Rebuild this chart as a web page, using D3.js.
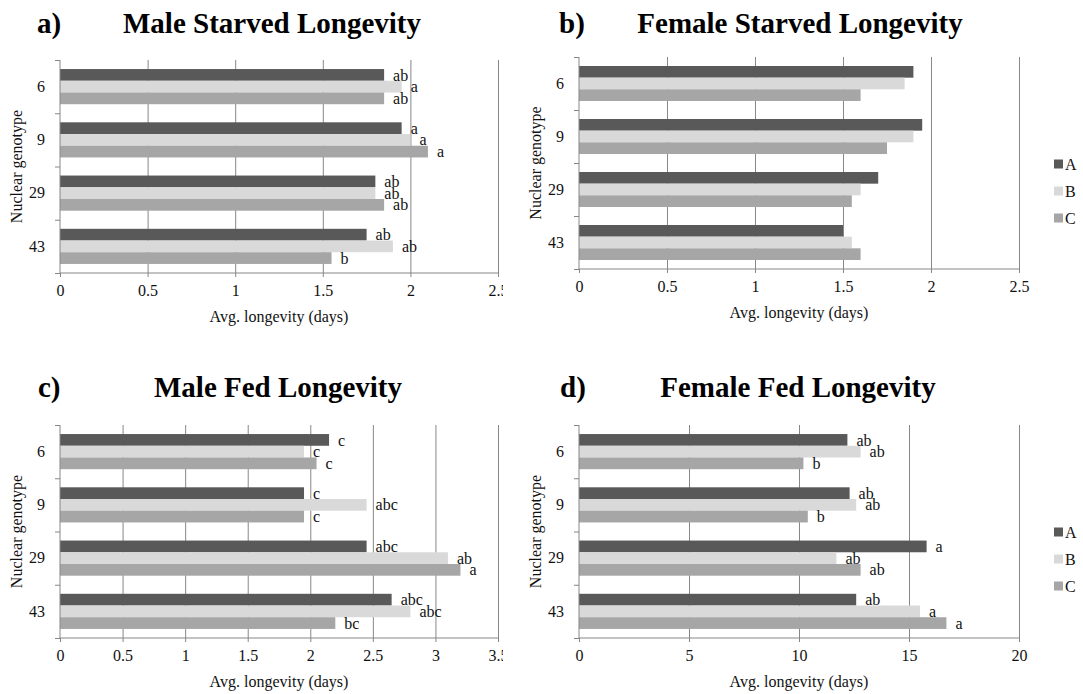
<!DOCTYPE html>
<html>
<head>
<meta charset="utf-8">
<script src="https://cdn.jsdelivr.net/npm/d3@7"></script>
<style>
  body { margin: 0; background: #fff; }
  svg { font-family: "Liberation Serif", "Times New Roman", serif; }
</style>
</head>
<body>
<div id="chart"></div>
<script>
// categories / series
var genotypes = ['6', '9', '29', '43'];
var mitoTypes = ['A', 'B', 'C'];

// a) Male starved
var maleStarvedA = [1.85, 1.95, 1.80, 1.75];
var maleStarvedB = [1.95, 2.00, 1.80, 1.90];
var maleStarvedC = [1.85, 2.10, 1.85, 1.55];
var maleStarvedLetters = [['ab', 'a', 'ab'], ['a', 'a', 'a'], ['ab', 'ab', 'ab'], ['ab', 'ab', 'b']];

// b) Female starved
var femaleStarvedA = [1.90, 1.95, 1.70, 1.50];
var femaleStarvedB = [1.85, 1.90, 1.60, 1.55];
var femaleStarvedC = [1.60, 1.75, 1.55, 1.60];

// c) Male fed
var maleFedA = [2.15, 1.95, 2.45, 2.65];
var maleFedB = [1.95, 2.45, 3.10, 2.80];
var maleFedC = [2.05, 1.95, 3.20, 2.20];
var maleFedLetters = [['c', 'c', 'c'], ['c', 'abc', 'c'], ['abc', 'ab', 'a'], ['abc', 'abc', 'bc']];

// d) Female fed
var femaleFedA = [12.2, 12.3, 15.8, 12.6];
var femaleFedB = [12.8, 12.6, 11.7, 15.5];
var femaleFedC = [10.2, 10.4, 12.8, 16.7];
var femaleFedLetters = [['ab', 'ab', 'b'], ['ab', 'ab', 'b'], ['a', 'ab', 'ab'], ['ab', 'a', 'a']];

var ticksStarved = [0, 0.5, 1, 1.5, 2, 2.5];
var ticksMaleFed = [0, 0.5, 1, 1.5, 2, 2.5, 3, 3.5];
var ticksFemaleFed = [0, 5, 10, 15, 20];

var colors = {A: '#595959', B: '#d9d9d9', C: '#a6a6a6'};
var gridColor = '#878787';
var serif = '"Liberation Serif", "Times New Roman", serif';

var svg = d3.select('#chart')
  .append('svg')
    .attr('width', 1083)
    .attr('height', 694);

// left panels are cut off just past their last tick in the original
svg.append('defs').append('clipPath')
    .attr('id', 'clipLeft')
  .append('rect')
    .attr('x', 0).attr('y', 0)
    .attr('width', 503).attr('height', 694);

function drawPanel(opt) {
  var root = svg.append('g');
  if (opt.clip) root.attr('clip-path', 'url(#clipLeft)');

  // panel letter + title
  root.append('text')
    .attr('x', opt.letterX).attr('y', opt.titleY)
    .attr('font-size', '29px').attr('font-weight', 'bold')
    .text(opt.letter);
  root.append('text')
    .attr('x', opt.titleX).attr('y', opt.titleY)
    .attr('text-anchor', 'middle')
    .attr('font-size', '29px').attr('font-weight', 'bold')
    .text(opt.title);

  var x = d3.scaleLinear()
    .domain([0, opt.ticks[opt.ticks.length - 1]])
    .range([opt.left, opt.right]);

  var y0 = d3.scaleBand()
    .domain(genotypes)
    .range([opt.top, opt.bottom])
    .paddingInner(0.34)
    .paddingOuter(0.17);

  var y1 = d3.scaleBand()
    .domain(mitoTypes)
    .range([0, y0.bandwidth()]);

  // grid lines
  root.append('g')
    .attr('transform', 'translate(0,' + opt.top + ')')
    .call(d3.axisTop(x).tickValues(opt.ticks.slice(1)).tickSize(-(opt.bottom - opt.top)).tickFormat(''))
    .call(function(g) {
      g.select('.domain').remove();
      g.selectAll('line').attr('stroke', gridColor);
    });

  // bars
  var rows = genotypes.map(function(gt, i) {
    return {gt: gt, vals: [opt.a[i], opt.b[i], opt.c[i]], letters: opt.letters ? opt.letters[i] : null};
  });

  var grp = root.selectAll('.grp')
    .data(rows)
    .enter().append('g')
      .attr('transform', function(d) { return 'translate(0,' + y0(d.gt) + ')'; });

  grp.selectAll('rect')
    .data(function(d) { return d.vals.map(function(v, j) { return {k: mitoTypes[j], v: v}; }); })
    .enter().append('rect')
      .attr('x', x(0))
      .attr('y', function(d) { return y1(d.k); })
      .attr('width', function(d) { return x(d.v) - x(0); })
      .attr('height', y1.bandwidth())
      .attr('fill', function(d) { return colors[d.k]; });

  if (opt.letters) {
    grp.selectAll('.lbl')
      .data(function(d) { return d.vals.map(function(v, j) { return {k: mitoTypes[j], v: v, t: d.letters[j]}; }); })
      .enter().append('text')
        .attr('x', function(d) { return x(d.v) + 9; })
        .attr('y', function(d) { return y1(d.k) + y1.bandwidth() / 2; })
        .attr('dy', '0.35em')
        .attr('font-size', '16px')
        .attr('fill', '#111')
        .text(function(d) { return d.t; });
  }

  // x axis
  var xAxis = root.append('g')
    .attr('transform', 'translate(0,' + opt.bottom + ')')
    .call(d3.axisBottom(x).tickValues(opt.ticks).tickSize(4).tickPadding(8).tickFormat(d3.format('')));
  xAxis.select('.domain').attr('stroke', gridColor).attr('d', 'M' + opt.left + ',0H' + opt.right);
  xAxis.selectAll('line').attr('stroke', gridColor);
  xAxis.selectAll('text')
    .attr('font-size', '16px')
    .attr('font-family', serif)
    .attr('fill', '#111');

  // y axis line + ticks on the category boundaries
  var yb = d3.scaleLinear().domain([0, genotypes.length]).range([opt.top, opt.bottom]);
  root.append('g')
    .attr('transform', 'translate(' + opt.left + ',0)')
    .call(d3.axisLeft(yb).ticks(genotypes.length).tickSize(5).tickFormat(''))
    .call(function(g) {
      g.select('.domain').attr('stroke', gridColor).attr('d', 'M0,' + opt.top + 'V' + opt.bottom);
      g.selectAll('line').attr('stroke', gridColor);
    });

  root.append('g')
    .attr('transform', 'translate(' + opt.left + ',0)')
    .call(d3.axisLeft(y0).tickSize(0).tickPadding(15))
    .call(function(g) {
      g.select('.domain').remove();
      g.selectAll('text')
        .attr('font-size', '16px')
        .attr('font-family', serif)
        .attr('fill', '#111');
    });

  // axis titles
  root.append('text')
    .attr('x', (opt.left + opt.right) / 2)
    .attr('y', opt.bottom + 49)
    .attr('text-anchor', 'middle')
    .attr('font-size', '16px')
    .attr('fill', '#111')
    .text('Avg. longevity (days)');

  root.append('text')
    .attr('transform', 'translate(' + (opt.left - 38) + ',' + ((opt.top + opt.bottom) / 2) + ') rotate(-90)')
    .attr('text-anchor', 'middle')
    .attr('font-size', '16px')
    .attr('fill', '#111')
    .text('Nuclear genotype');

  // legend
  if (opt.legend) {
    var leg = root.selectAll('.leg')
      .data(mitoTypes)
      .enter().append('g')
        .attr('transform', function(d, i) { return 'translate(' + (opt.right + 35) + ',' + (opt.top + 107 + i * 27) + ')'; });
    leg.append('rect')
      .attr('x', 0).attr('y', -4.5)
      .attr('width', 9).attr('height', 9)
      .attr('fill', function(d) { return colors[d]; });
    leg.append('text')
      .attr('x', 11).attr('y', 0)
      .attr('dy', '0.35em')
      .attr('font-size', '16px')
      .attr('fill', '#111')
      .text(function(d) { return d; });
  }
}

drawPanel({
  letter: 'a)', letterX: 37, title: 'Male Starved Longevity', titleX: 272, titleY: 33,
  left: 60, right: 498, top: 60, bottom: 273, ticks: ticksStarved,
  a: maleStarvedA, b: maleStarvedB, c: maleStarvedC, letters: maleStarvedLetters, clip: true
});

drawPanel({
  letter: 'b)', letterX: 559, title: 'Female Starved Longevity', titleX: 800, titleY: 33,
  left: 579, right: 1019, top: 57, bottom: 269, ticks: ticksStarved,
  a: femaleStarvedA, b: femaleStarvedB, c: femaleStarvedC, legend: true
});

drawPanel({
  letter: 'c)', letterX: 38, title: 'Male Fed Longevity', titleX: 278, titleY: 397,
  left: 60, right: 498, top: 425, bottom: 638, ticks: ticksMaleFed,
  a: maleFedA, b: maleFedB, c: maleFedC, letters: maleFedLetters, clip: true
});

drawPanel({
  letter: 'd)', letterX: 560, title: 'Female Fed Longevity', titleX: 798, titleY: 397,
  left: 579, right: 1019, top: 425, bottom: 638, ticks: ticksFemaleFed,
  a: femaleFedA, b: femaleFedB, c: femaleFedC, letters: femaleFedLetters, legend: true
});
</script>
</body>
</html>
